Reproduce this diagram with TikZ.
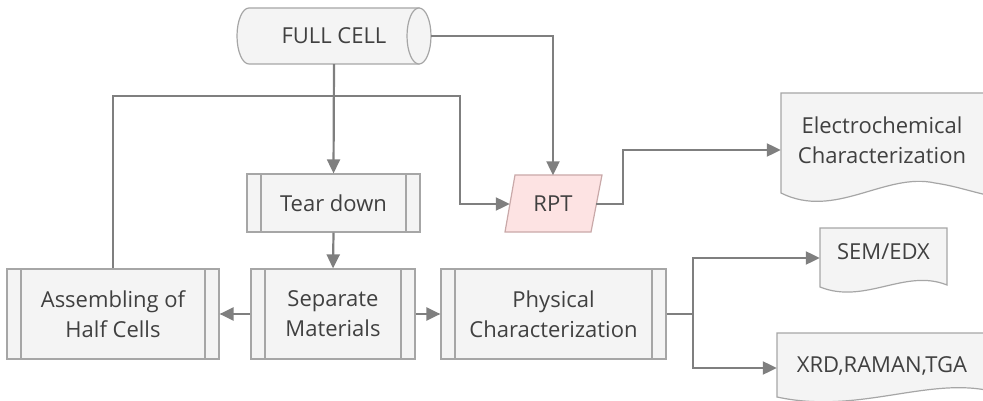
\documentclass[tikz,border=0pt]{standalone}
\usepackage{fontspec}
\setmainfont{Open Sans}
\usetikzlibrary{arrows.meta,calc}
\definecolor{lineg}{HTML}{7F7F7F}
\definecolor{edgeg}{HTML}{A6A6A6}
\definecolor{fillg}{HTML}{F4F4F4}
\definecolor{txtg}{HTML}{404040}
\definecolor{rptfill}{HTML}{FDE3E3}
\definecolor{rptedge}{HTML}{C9A9A9}
\begin{document}
\begin{tikzpicture}[x=1pt,y=-1pt,
 conn/.style={draw=lineg, line width=2.2pt, -{Triangle[length=14pt,width=13pt]}},
 plain/.style={draw=lineg, line width=2.2pt},
 lbl/.style={font=\fontsize{22}{30}\selectfont, text=txtg, align=center, inner sep=0pt},
 procbox/.style={lbl, draw=edgeg, fill=fillg, line width=1.2pt, rectangle,
   path picture={\draw[edgeg, line width=1.2pt]
     ([xshift=14pt]path picture bounding box.north west) -- ([xshift=14pt]path picture bounding box.south west)
     ([xshift=-14pt]path picture bounding box.north east) -- ([xshift=-14pt]path picture bounding box.south east);}},
 shapeline/.style={draw=edgeg, fill=fillg, line width=1.2pt},
]
\clip (0,0) rectangle (983,401);
% full cell cylinder
\path[shapeline] (419,8) -- (249,8) arc[start angle=270, end angle=90, x radius=12, y radius=28] -- (419,64) -- cycle;
\path[shapeline] (419,36) ellipse[x radius=12, y radius=28];
\node[lbl, minimum width=194pt, minimum height=56pt] (full) at (334,36) {FULL CELL};
% process boxes
\node[procbox, minimum width=173pt, minimum height=58pt] (tear) at (333.5,203) {Tear down};
\node[procbox, minimum width=164pt, minimum height=90pt] (sep) at (333,314) {Separate\\Materials};
\node[procbox, minimum width=212pt, minimum height=90pt] (asm) at (113,314) {Assembling of\\Half Cells};
\node[procbox, minimum width=225pt, minimum height=90pt] (phys) at (553.5,314) {Physical\\Characterization};
% RPT parallelogram
\path[draw=rptedge, fill=rptfill, line width=1.2pt] (515,175) -- (602,175) -- (591,232) -- (505,232) -- cycle;
\node[lbl, minimum width=86pt, minimum height=57pt] (rpt) at (553,204) {RPT};
% document shapes
\path[shapeline] (781,93) -- (995,93) -- (995,197) .. controls (965,190) and (955,186) .. (935,183)
  .. controls (885,172) and (835,220) .. (781,193) -- cycle;
\node[lbl, minimum width=202pt] (elec) at (882,140) {Electrochemical\\Characterization};
\path[shapeline] (820,228) -- (947,228) -- (947,285) .. controls (905,268) and (865,305) .. (820,287) -- cycle;
\node[lbl, minimum width=127pt] (sem) at (883.5,252) {SEM/EDX};
\path[shapeline] (777,333) -- (995,333) -- (995,392) .. controls (930,375) and (860,415) .. (777,397) -- cycle;
\node[lbl, minimum width=210pt] (xrd) at (882,366) {XRD,RAMAN,TGA};
% connectors
\draw[conn] (full.south) -- (tear.north);
\draw[conn] (full.east) -| (rpt.north);
\coordinate (loopc) at (460,96);
\draw[conn] (asm.north) |- (loopc) |- (rpt.west);
\coordinate (rc) at (623,204);
\draw[conn] (rpt.east) -- (rc) |- ([yshift=-10pt]elec.west);
\draw[conn] (tear.south) -- (sep.north);
\draw[conn] (sep.west) -- (asm.east);
\draw[conn] (sep.east) -- (phys.west);
\coordinate (br) at (693,314);
\draw[plain] (phys.east) -- (br);
\draw[conn] (br) |- ([yshift=-6pt]sem.west);
\draw[conn] (br) |- ([yshift=-2pt]xrd.west);
\end{tikzpicture}
\end{document}
